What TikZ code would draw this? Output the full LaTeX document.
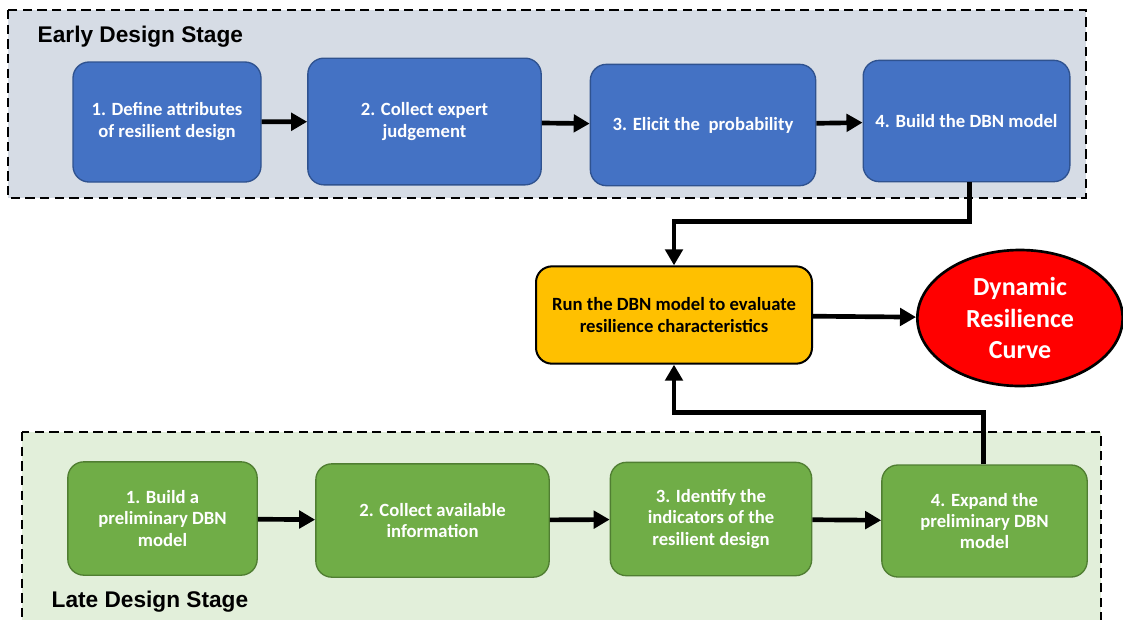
\documentclass[tikz,border=0pt]{standalone}
\usepackage{fontspec}
\setmainfont{Carlito}
\newfontfamily\arialfont{Liberation Sans}
\usetikzlibrary{arrows.meta,shapes.geometric}
\definecolor{earlybg}{HTML}{D6DCE5}
\definecolor{latebg}{HTML}{E2EFDA}
\definecolor{bluefill}{HTML}{4472C4}
\definecolor{blueline}{HTML}{2F528F}
\definecolor{greenfill}{HTML}{70AD47}
\definecolor{greenline}{HTML}{507E32}
\definecolor{runfill}{HTML}{FFC000}
\tikzset{
    stage/.style={draw,line width=1.3pt,dash pattern=on 7pt off 4pt},
    stepblue/.style={draw=blueline,fill=bluefill,line width=1pt,rounded corners=12pt,
        text=white,align=center,font=\bfseries\fontsize{14}{16.5}\selectfont},
    stepgreen/.style={draw=greenline,fill=greenfill,line width=1pt,rounded corners=12pt,
        text=white,align=center,font=\bfseries\fontsize{14}{16}\selectfont},
    flow/.style={line width=3.5pt,-{Triangle[length=12pt,width=13pt]}},
}
\begin{document}
\begin{tikzpicture}[x=0.75pt,y=-0.75pt]
        \useasboundingbox (0,0) rectangle (1123,619);
        %% Stages
        \draw[stage,fill=earlybg] (8,10) rectangle (1086,198);
        \draw[stage,fill=latebg] (22,432) rectangle (1101,640);
        \node[anchor=west,font=\arialfont\bfseries\fontsize{17}{20}\selectfont] (early) at (33,37) {Early Design Stage};
        \node[anchor=west,font=\arialfont\bfseries\fontsize{17}{20}\selectfont] (late) at (47,602) {Late Design Stage};
        %% Early steps
        \node[stepblue,minimum width=141pt,minimum height=90pt] (b1) at (167,122) {1. Define attributes\\of resilient design};
        \node[stepblue,minimum width=175pt,minimum height=95pt] (b2) at (424.5,121.5) {2. Collect expert\\judgement};
        \node[stepblue,minimum width=169pt,minimum height=91pt] (b3) at (703,125) {3. Elicit the\ \ probability};
        \node[stepblue,minimum width=155pt,minimum height=91pt] (b4) at (966.5,121) {4. Build the DBN model};
        %% Late steps
        \node[stepgreen,minimum width=142pt,minimum height=85pt] (g1) at (162.5,518.5) {1. Build a\\preliminary DBN\\model};
        \node[stepgreen,minimum width=175pt,minimum height=85pt] (g2) at (432.5,520.5) {2. Collect available\\information};
        \node[stepgreen,minimum width=151pt,minimum height=85pt] (g3) at (711,519) {3. Identify the\\indicators of the\\resilient design};
        \node[stepgreen,minimum width=154pt,minimum height=84pt] (g4) at (984.5,521) {4. Expand the\\preliminary DBN\\model};
        %% Model and result
        \node[draw,line width=1.5pt,fill=runfill,rounded corners=12pt,align=center,
            font=\bfseries\fontsize{14}{16.5}\selectfont,minimum width=207pt,minimum height=73pt] (run) at (674,315)
            {Run the DBN model to evaluate\\resilience characteristics};
        \node[ellipse,draw,line width=2pt,fill=red,text=white,align=center,inner sep=0pt,
            font=\bfseries\fontsize{19.5}{23.5}\selectfont,minimum width=154pt,minimum height=102pt] (curve) at (1020,318)
            {Dynamic\\Resilience\\Curve};
        %% Arrows
        \draw[flow] (b1) -- (b2);
        \draw[flow] (b2) -- (b3);
        \draw[flow] (b3) -- (b4);
        \draw[flow] (g1) -- (g2);
        \draw[flow] (g2) -- (g3);
        \draw[flow] (g3) -- (g4);
        \draw[flow] (run) -- (curve);
        \draw[flow] ([xshift=2pt]b4.south) -- ++(0,39) -| (run.north);
        \draw[flow] ([xshift=-1pt]g4.north) -- ++(0,-52) -| (run.south);
    \end{tikzpicture}
\end{document}
